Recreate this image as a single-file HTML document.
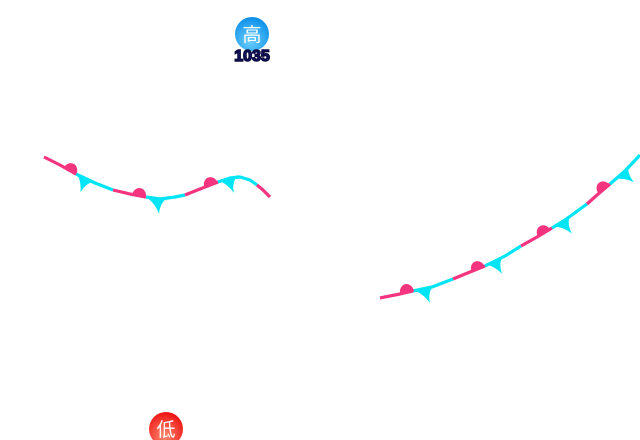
<!DOCTYPE html>
<html><head><meta charset="utf-8"><style>
html,body{margin:0;padding:0;background:#fff;width:640px;height:440px;overflow:hidden}
</style></head><body>
<svg width="640" height="440" viewBox="0 0 640 440" xmlns="http://www.w3.org/2000/svg">
<defs>
<radialGradient id="gb" cx="0.45" cy="0.7" r="0.7"><stop offset="0" stop-color="#6fd0ff"/><stop offset="1" stop-color="#0a8ee8"/></radialGradient>
<radialGradient id="gr" cx="0.45" cy="0.7" r="0.7"><stop offset="0" stop-color="#ff8a70"/><stop offset="1" stop-color="#ee1111"/></radialGradient>
<path id="semi" d="M-7,1 L-7,0 A7,8 0 0 1 7,0 L7,1 Z" fill="#f5347f"/>
<path id="tri" d="M-10,-1 L11,-1 Q3,3 2,15 Q-2,4 -10,-1 Z" fill="#00e5f5"/>
</defs>
<g fill="none" stroke-width="3.2" stroke-linecap="butt" stroke-linejoin="round">
<polyline stroke="#f5347f" points="44,157 60,165 76,174"/>
<polyline stroke="#00e5f5" points="76,174 95,183 113,190"/>
<polyline stroke="#f5347f" points="113,190 130,194 146,197"/>
<polyline stroke="#00e5f5" points="146,197 160,199 175,197 185,195"/>
<polyline stroke="#f5347f" points="185,195 200,189 218,182"/>
<polyline stroke="#00e5f5" points="218,182 230,178 240,177 250,180 257,185"/>
<polyline stroke="#f5347f" points="257,185 263,190 270,197"/>

<polyline stroke="#f5347f" points="380,298 400,294 413,291"/>
<polyline stroke="#00e5f5" points="413,291 432,287 453,279"/>
<polyline stroke="#f5347f" points="453,279 470,272 485,266"/>
<polyline stroke="#00e5f5" points="485,266 505,256 521,246"/>
<polyline stroke="#f5347f" points="521,246 537,237 552,228"/>
<polyline stroke="#00e5f5" points="552,228 565,220 587,204"/>
<polyline stroke="#f5347f" points="587,204 597,195 610,184"/>
<polyline stroke="#00e5f5" points="610,184 625,171 640,155"/>
</g>
<use href="#semi" transform="translate(70,171) rotate(28)"/>
<use href="#semi" transform="translate(139,196) rotate(10)"/>
<use href="#semi" transform="translate(211,185) rotate(-22)"/>
<use href="#tri" transform="translate(85,178) rotate(25)"/>
<use href="#tri" transform="translate(157,199) rotate(0)"/>
<use href="#tri" transform="translate(228,179) rotate(-15)"/>

<use href="#semi" transform="translate(407,292) rotate(-12)"/>
<use href="#semi" transform="translate(478,269) rotate(-22)"/>
<use href="#semi" transform="translate(544,233) rotate(-30)"/>
<use href="#semi" transform="translate(604,189) rotate(-40)"/>
<use href="#tri" transform="translate(424,289) rotate(-15)"/>
<use href="#tri" transform="translate(494,261) rotate(-25)"/>
<use href="#tri" transform="translate(562,222) rotate(-33)"/>
<use href="#tri" transform="translate(622,173) rotate(-45)"/>

<circle cx="252" cy="34" r="17" fill="url(#gb)"/>
<text x="252" y="41" text-anchor="middle" font-family="'Noto Sans CJK SC',sans-serif" font-size="19" fill="#fff">高</text>
<text x="252" y="61" text-anchor="middle" font-family="'Liberation Sans',sans-serif" font-weight="bold" font-size="16" fill="#1a1a80" stroke="#0a0a40" stroke-width="1.5">1035</text>

<circle cx="166" cy="429" r="17" fill="url(#gr)"/>
<text x="166" y="436" text-anchor="middle" font-family="'Noto Sans CJK SC',sans-serif" font-size="19" fill="#fff">低</text>
</svg>
</body></html>
